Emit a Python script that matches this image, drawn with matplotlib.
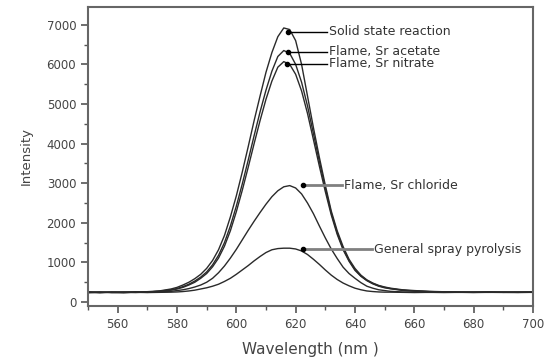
import matplotlib.pyplot as plt
from matplotlib.ticker import MultipleLocator

# wavelength grid (nm)
wavelength = [550, 554, 558, 562, 566, 570, 574,
              578, 580, 582, 584, 586, 588, 590, 592, 594, 596, 598, 600,
              602, 604, 606, 608, 610, 612, 614, 616, 618, 620, 622, 624,
              626, 628, 630, 632, 634, 636, 638, 640, 642, 644, 646, 648,
              650, 652,
              656, 660, 665, 670, 675, 680, 685, 690, 695, 700]

# intensities
solid_state = [260, 240, 255, 245, 250, 262, 280,
               330, 370, 430, 500, 590, 700, 850, 1050, 1320, 1680, 2150, 2680,
               3280, 3920, 4580, 5200, 5800, 6300, 6700, 6920, 6880, 6600, 6000, 5200,
               4400, 3650, 2950, 2300, 1800, 1400, 1080, 850, 680, 560, 480, 420,
               380, 350,
               310, 290, 270, 260, 255, 250, 258, 245, 252, 250]
sr_acetate = [245, 255, 240, 250, 260, 250, 275,
              310, 340, 390, 450, 530, 630, 760, 940, 1180, 1500, 1920, 2420,
              2980, 3580, 4200, 4800, 5350, 5830, 6200, 6350, 6280, 6000, 5550, 4950,
              4250, 3550, 2880, 2250, 1750, 1350, 1050, 820, 660, 550, 470, 410,
              370, 340,
              300, 280, 265, 255, 250, 248, 252, 250, 245, 255]
sr_nitrate = [250, 235, 250, 255, 240, 255, 270,
              300, 330, 370, 430, 500, 600, 720, 890, 1110, 1410, 1800, 2280,
              2820, 3400, 4000, 4580, 5120, 5580, 5930, 6070, 6000, 5750, 5330, 4760,
              4100, 3430, 2790, 2200, 1710, 1320, 1030, 800, 650, 540, 460, 400,
              360, 335,
              295, 275, 262, 252, 248, 245, 250, 248, 250, 245]
sr_chloride = [240, 250, 245, 240, 250, 245, 255,
               270, 290, 310, 340, 380, 430, 500, 600, 740, 910, 1110, 1330,
               1570, 1810, 2040, 2260, 2470, 2660, 2810, 2910, 2940, 2880, 2730, 2500,
               2230, 1920, 1620, 1340, 1100, 880, 720, 600, 490, 400, 350, 310,
               290, 270,
               255, 250, 245, 250, 245, 250, 245, 250, 248, 250]
general_spray = [235, 245, 240, 235, 245, 240, 245,
                 250, 255, 265, 280, 300, 330, 360, 400, 450, 520, 600, 700,
                 810, 920, 1040, 1150, 1250, 1320, 1350, 1360, 1360, 1340, 1290, 1200,
                 1080, 950, 810, 680, 570, 480, 410, 350, 310, 280, 265, 255,
                 250, 250,
                 245, 240, 245, 240, 245, 240, 245, 242, 240, 245]

series = [solid_state, sr_acetate, sr_nitrate, sr_chloride, general_spray]
labels = ["Solid state reaction", "Flame, Sr acetate", "Flame, Sr nitrate",
          "Flame, Sr chloride", "General spray pyrolysis"]
# (marker x, marker y, line end x) for each label
label_pos = [(617.3, 6830, 630.5), (617.3, 6320, 630.5), (617.0, 6020, 630.5),
             (622.4, 2950, 635.5), (622.4, 1335, 645.7)]

fig = plt.figure(figsize=(5.5, 3.59), dpi=100)
ax = fig.add_axes([0.16, 0.1476, 0.809, 0.833])

for s in series:
    ax.plot(wavelength, s, color='#2a2a2a', lw=1.0)

for lab, (mx, my, ex) in zip(labels, label_pos):
    col = 'black' if my > 5000 else '#808080'
    lw = 1.0 if my > 5000 else 2.0
    ax.plot([mx, ex], [my, my], color=col, lw=lw)
    ax.plot(mx, my, 'o', color='black', ms=3)
    ax.text(ex + 0.8, my, lab, fontsize=9, va='center', ha='left', color='#333333')

ax.set_xlim(550, 700)
ax.set_ylim(-100, 7450)
ax.xaxis.set_major_locator(MultipleLocator(20))
ax.xaxis.set_minor_locator(MultipleLocator(10))
ax.yaxis.set_major_locator(MultipleLocator(1000))
ax.yaxis.set_minor_locator(MultipleLocator(500))
ax.tick_params(which='major', length=5, width=1.2, color='#555555', labelsize=8.5,
               labelcolor='#444444', direction='out')
ax.tick_params(which='minor', length=3, width=1.0, color='#555555', direction='out')
for sp in ax.spines.values():
    sp.set_color('#666666')
    sp.set_linewidth(1.5)

ax.set_xlabel("Wavelength (nm )", fontsize=11, color='#444444', labelpad=8)
ax.set_ylabel("Intensity", fontsize=9.5, color='#444444', labelpad=10)

fig.savefig("out.png", dpi=100)
